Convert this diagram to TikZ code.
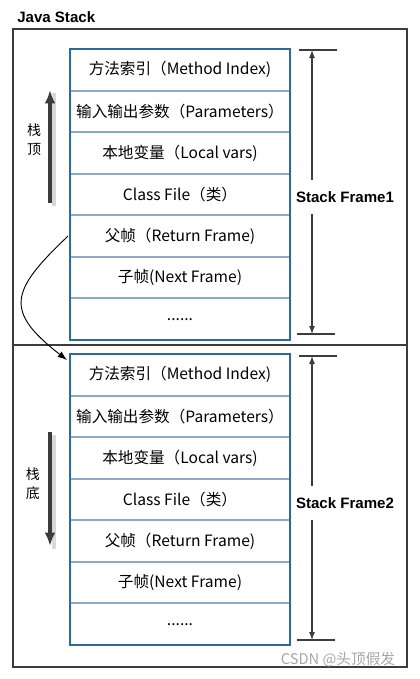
\documentclass[tikz,border=0pt]{standalone}
\usepackage{fontspec}
\setmainfont{Liberation Sans}
\newfontfamily\cjk{Noto Sans CJK SC}
\usetikzlibrary{arrows.meta,positioning}
\definecolor{framegray}{HTML}{3C3C3C}
\definecolor{boxblue}{HTML}{2D6A9C}
\definecolor{lineblue}{HTML}{8DA9C6}

\begin{document}
\begin{tikzpicture}[x=0.75pt, y=-0.75pt,
  row/.style={rectangle, draw=lineblue, line width=0.75pt, minimum width=164.25pt,
              minimum height=30.43pt, inner sep=0pt, font=\cjk\fontsize{11.7}{13}\selectfont},
  lbl/.style={font=\bfseries\fontsize{11.3}{13}\selectfont, inner xsep=0pt},
  dim/.style={{Latex[length=6pt,width=4.5pt]}-{Latex[length=6pt,width=4.5pt]}, framegray, line width=0.8pt},
  tick/.style={framegray, line width=1.2pt},
  big/.style={-{Latex[length=10pt,width=8pt]}, framegray, line width=2.4pt},
  shade/.style={gray!30, line width=3.5pt},
]
\useasboundingbox (0,0) rectangle (419,679);

% outer frame
\node[lbl, anchor=west] (title) at (17,17) {Java Stack};
\draw[framegray, line width=2pt] (13,29) rectangle (407,667);
\draw[framegray, line width=1.8pt] (13,345) -- (407,345);

% frame 1
\node[row, anchor=north west] (a1) at (70,49) {方法索引（Method Index)};
\node[row, below=0pt of a1] (a2) {输入输出参数（Parameters）};
\node[row, below=0pt of a2] (a3) {本地变量（Local vars)};
\node[row, below=0pt of a3] (a4) {Class File（类）};
\node[row, below=0pt of a4] (a5) {父帧（Return Frame)};
\node[row, below=0pt of a5] (a6) {子帧(Next Frame)};
\node[row, below=0pt of a6] (a7) {......};
\draw[boxblue, line width=0.9pt] (a1.north west) rectangle (a7.south east);

% frame 2
\node[row, anchor=north west] (b1) at (70,354) {方法索引（Method Index)};
\node[row, below=0pt of b1] (b2) {输入输出参数（Parameters）};
\node[row, below=0pt of b2] (b3) {本地变量（Local vars)};
\node[row, below=0pt of b3] (b4) {Class File（类）};
\node[row, below=0pt of b4] (b5) {父帧（Return Frame)};
\node[row, below=0pt of b5] (b6) {子帧(Next Frame)};
\node[row, below=0pt of b6] (b7) {......};
\draw[boxblue, line width=0.9pt] (b1.north west) rectangle (b7.south east);

% stack direction
\coordinate (up0) at (50,203);
\coordinate (up1) at (50,90);
\coordinate (dn0) at (50,432);
\coordinate (dn1) at (50,546);
\draw[shade] ([shift={(3pt,-2pt)}]up0) -- ([shift={(3pt,-2pt)}]up1);
\draw[shade] ([shift={(3pt,-2pt)}]dn0) -- ([shift={(3pt,-2pt)}]dn1);
\draw[big] (up0) -- (up1);
\draw[big] (dn0) -- (dn1);
\node[font=\cjk\fontsize{10.5}{14}\selectfont, align=center] (top) at (34,140) {栈\\顶};
\node[font=\cjk\fontsize{10.5}{14}\selectfont, align=center] (bot) at (33,484) {栈\\底};

\draw[-{Latex[length=7pt,width=5pt]}, black, line width=0.7pt]
  ([xshift=-1.5pt]a5.west) .. controls (10,291) and (4,311) .. ([shift={(-2.25pt,-4.5pt)}]b1.north west);

% frame sizes
\coordinate (f1t) at (312,50);
\coordinate (f1b) at (312,334);
\coordinate (f2t) at (312,356);
\coordinate (f2b) at (312,640);
\draw[tick] ([xshift=-9.75pt]f1t) -- ([xshift=18.75pt]f1t);
\draw[tick] ([xshift=-11.25pt]f1b) -- ([xshift=17.25pt]f1b);
\draw[tick] ([xshift=-9.75pt]f2t) -- ([xshift=18.75pt]f2t);
\draw[tick] ([xshift=-11.25pt]f2b) -- ([xshift=17.25pt]f2b);
\draw[dim] (f1t) -- (f1b);
\draw[dim] (f2t) -- (f2b);
\node[lbl, fill=white, minimum height=25pt] (sf1) at (345,197) {Stack Frame1};
\node[lbl, fill=white, minimum height=25pt] (sf2) at (345,503) {Stack Frame2};

\node[font=\cjk\fontsize{11}{13}\selectfont, text=gray!70] (mark) at (338,660) {CSDN @头顶假发};
\end{tikzpicture}
\end{document}
